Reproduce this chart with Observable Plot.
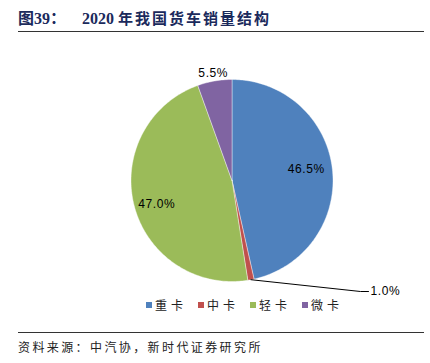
<!DOCTYPE html>
<html><head><meta charset="utf-8">
<script src="https://cdn.jsdelivr.net/npm/d3@7"></script>
<script src="https://cdn.jsdelivr.net/npm/@observablehq/plot@0.6"></script>
<style>
body{margin:0;background:#fff;}
#wrap{position:relative;width:430px;height:363px;overflow:hidden;background:#fff;}
#title{position:absolute;left:18px;top:0;width:406px;height:31px;border-bottom:1.5px solid #333;
  font-family:"Liberation Serif","Noto Sans CJK SC",serif;font-weight:bold;font-size:16px;color:#1b2a5c;line-height:36px;white-space:nowrap;}
#title .cn{font-family:"Noto Sans CJK SC",sans-serif;font-size:15px;letter-spacing:2px;font-weight:bold;}
#legend{position:absolute;top:296px;left:146px;display:flex;gap:0;font-family:"Noto Sans CJK SC",sans-serif;font-size:12px;color:#222;white-space:nowrap;}
#legend .it{display:flex;align-items:center;margin-right:11px;letter-spacing:4px;}
#legend .sw{width:6px;height:6px;margin-right:3px;}
#foot{position:absolute;left:18px;top:332px;width:406px;border-top:1.5px solid #333;
  font-family:"Noto Sans CJK SC",sans-serif;font-size:12px;letter-spacing:2.4px;color:#222;padding-top:5px;white-space:nowrap;}
#plot{position:absolute;left:0;top:0;}
</style></head><body>
<div id="wrap">
  <div id="plot"></div>
  <div id="title"><span>图39：</span><span style="display:inline-block;width:16px"></span><span>2020</span> <span class="cn">年我国货车销量结构</span></div>
  <div id="legend"></div>
  <div id="foot">资料来源：中汽协，新时代证券研究所</div>
</div>
<script>
const titleText = "2020 年我国货车销量结构";
const categories = ["重卡", "中卡", "轻卡", "微卡"];
const shares = [46.5, 1.0, 47.0, 5.5];
const labels = ["46.5%", "1.0%", "47.0%", "5.5%"];
const colors = ["#4F81BD", "#C0504D", "#9BBB59", "#8064A2"];

// layout of the pie (pixels)
const cx = 231.5, cy = 180, R = 101;

const arcs = d3.pie().sort(null).value(d => d)(shares);

// slice outlines in unit coordinates (y up), angle 0 at 12 o'clock, clockwise
const slicePts = [];
arcs.forEach((a, i) => {
  const n = Math.max(2, Math.ceil((a.endAngle - a.startAngle) / (Math.PI / 180)) + 1);
  slicePts.push({cat: categories[i], x: 0, y: 0});
  for (let k = 0; k < n; k++) {
    const t = a.startAngle + (a.endAngle - a.startAngle) * k / (n - 1);
    slicePts.push({cat: categories[i], x: Math.sin(t), y: Math.cos(t)});
  }
  slicePts.push({cat: categories[i], x: 0, y: 0});
});

// label placement: radial factor and extra pixel offset; null => leader label
const labelRadius = [0.74, null, 0.77, 1.08];
const labelShift = [[0, -3], [0, 0], [0, 4], [0, 0]];
const inLabels = [];
const leader = [];
let outLabel = null;
arcs.forEach((a, i) => {
  const m = (a.startAngle + a.endAngle) / 2;
  if (labelRadius[i] != null) {
    inLabels.push({
      text: labels[i],
      x: Math.sin(m) * labelRadius[i] + labelShift[i][0] / R,
      y: Math.cos(m) * labelRadius[i] - labelShift[i][1] / R
    });
  } else {
    const ex = (368 - cx) / R, ey = -(291 - cy) / R;
    leader.push({x: Math.sin(m), y: Math.cos(m)});
    leader.push({x: (360 - cx) / R, y: ey});
    leader.push({x: ex, y: ey});
    outLabel = {text: labels[i], x: ex + 2 / R, y: ey};
  }
});

const chart = Plot.plot({
  width: 430,
  height: 363,
  margin: 0,
  x: {domain: [-1, 1], range: [cx - R, cx + R], axis: null},
  y: {domain: [-1, 1], range: [cy + R, cy - R], axis: null},
  color: {domain: categories, range: colors},
  style: {fontFamily: "'Liberation Sans', Arial, sans-serif", fontSize: "12px", letterSpacing: "0.6px", background: "transparent"},
  marks: [
    Plot.line(slicePts, {x: "x", y: "y", z: "cat", fill: "cat", stroke: "#ffffff", strokeWidth: 0.4, curve: "linear"}),
    Plot.line(leader, {x: "x", y: "y", stroke: "#000", strokeWidth: 1}),
    Plot.text(inLabels, {x: "x", y: "y", text: "text", fill: "#000", fontSize: 12}),
    Plot.text([outLabel], {x: "x", y: "y", text: "text", fill: "#000", textAnchor: "start", fontSize: 12})
  ]
});
document.getElementById("plot").appendChild(chart);

const lg = document.getElementById("legend");
categories.forEach((c, i) => {
  const it = document.createElement("div");
  it.className = "it";
  const sw = document.createElement("div");
  sw.className = "sw";
  sw.style.background = colors[i];
  const tx = document.createElement("span");
  tx.textContent = c;
  it.appendChild(sw); it.appendChild(tx);
  lg.appendChild(it);
});
</script>
</body></html>
